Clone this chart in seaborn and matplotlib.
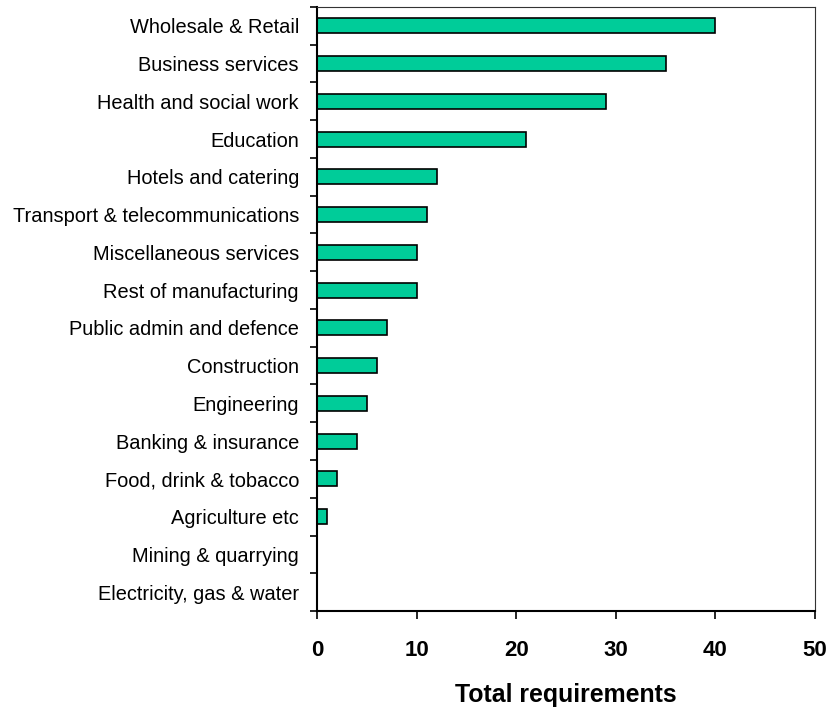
import numpy as np
import pandas as pd
import seaborn as sns
import matplotlib.pyplot as plt

sectors = ["Wholesale & Retail", "Business services", "Health and social work", "Education",
           "Hotels and catering", "Transport & telecommunications", "Miscellaneous services",
           "Rest of manufacturing", "Public admin and defence", "Construction", "Engineering",
           "Banking & insurance", "Food, drink & tobacco", "Agriculture etc",
           "Mining & quarrying", "Electricity, gas & water"]
requirements = [40, 35, 29, 21, 12, 11, 10, 10, 7, 6, 5, 4, 2, 1, 0, 0]

df = pd.DataFrame({"sector": sectors, "total": requirements})

sns.set_style("white")
plt.rcParams['font.family'] = ['Liberation Sans', 'DejaVu Sans']
plt.rcParams['text.color'] = 'black'
plt.rcParams['xtick.color'] = 'black'
plt.rcParams['ytick.color'] = 'black'
plt.rcParams['axes.labelcolor'] = 'black'

fig = plt.figure(figsize=(8.27, 7.09), dpi=100)
ax = fig.add_axes([0.3833, 0.1382, 0.6022, 0.852])
sns.barplot(data=df, x="total", y="sector", color="#00CC99", edgecolor="black",
            linewidth=1.2, width=0.4, saturation=1, ax=ax)

ax.set_xlim(0, 50)
ax.set_ylim(len(sectors) - 0.5, -0.5)
ax.set_xticks(np.arange(0, 51, 10))
ax.set_xticklabels([str(v) for v in range(0, 51, 10)], fontsize=16, fontweight="bold")
ax.tick_params(axis="x", direction="out", length=6, width=1.2, pad=15, bottom=True)
ax.tick_params(axis="y", which="major", length=0, labelsize=14.4, pad=13)
ax.set_yticks(np.arange(-0.5, len(sectors), 1), minor=True)
ax.tick_params(axis="y", which="minor", direction="out", length=5, width=1.2, left=True)
ax.set_xlabel("Total requirements", fontsize=17.9, fontweight="bold", labelpad=16)
ax.set_ylabel("")
for side in ["left", "bottom"]:
    ax.spines[side].set_linewidth(1.5)
    ax.spines[side].set_color("black")
for side in ["top", "right"]:
    ax.spines[side].set_linewidth(0.8)
    ax.spines[side].set_color("#333333")

fig.savefig("out.png", dpi=100)
